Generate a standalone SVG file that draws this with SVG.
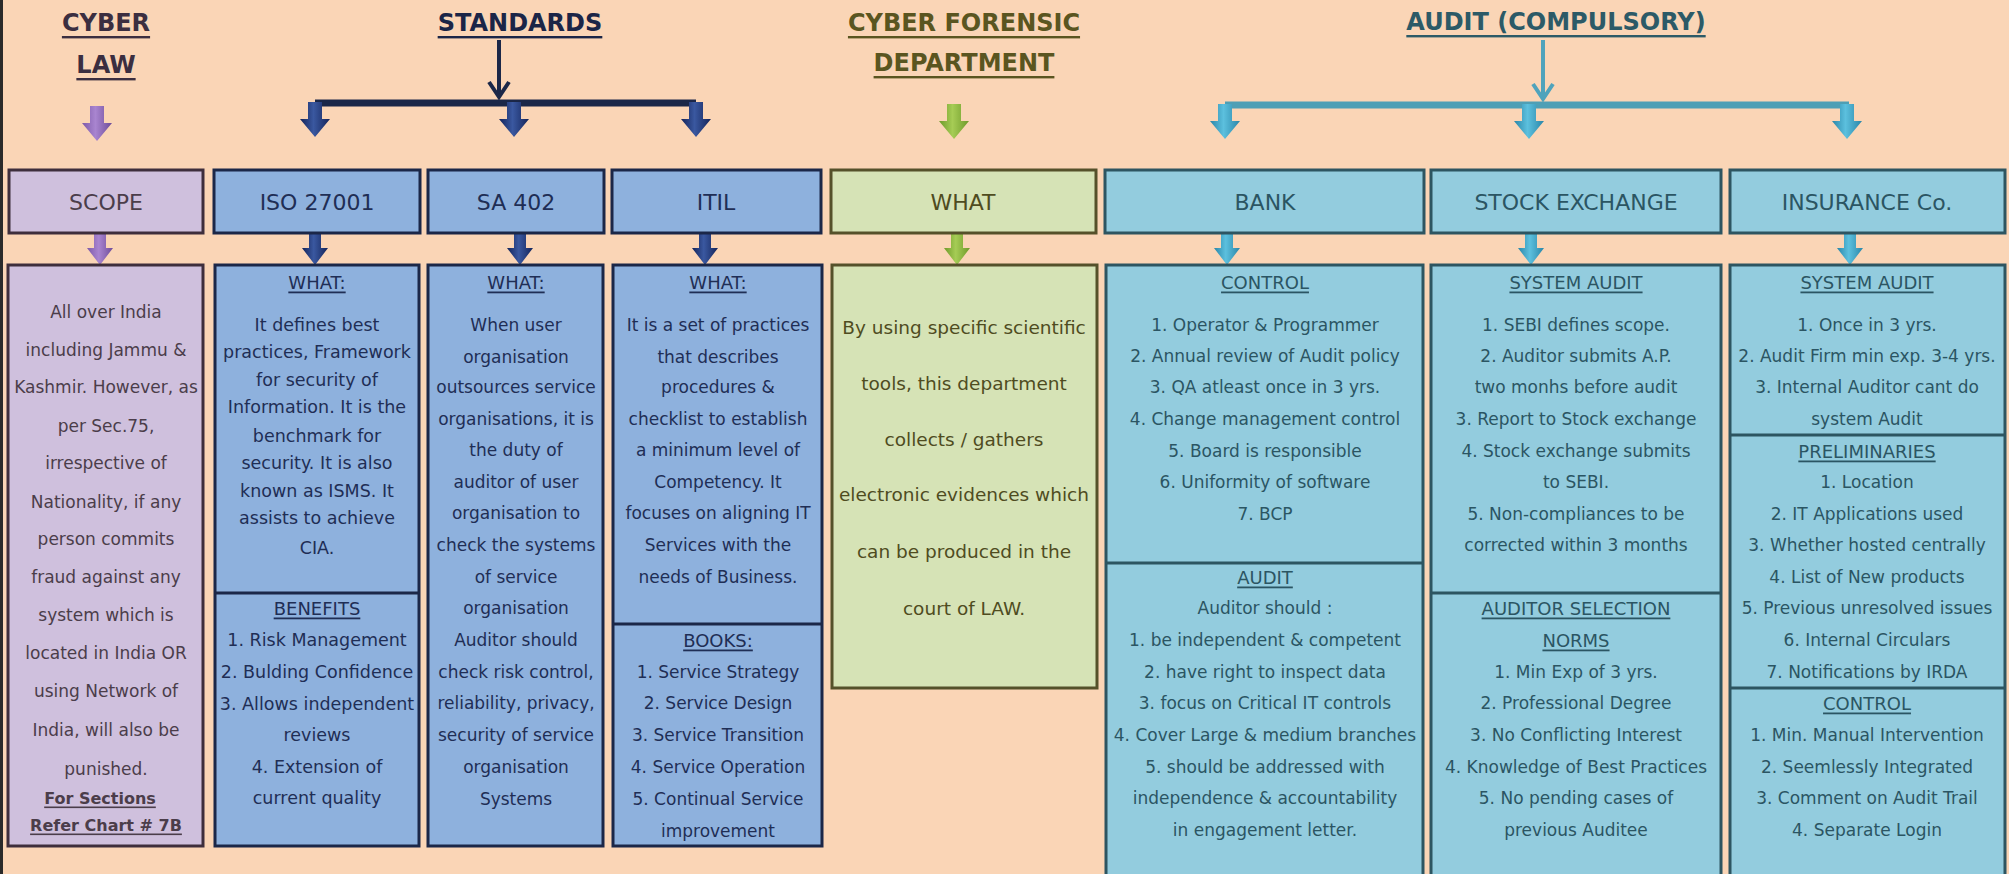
<svg xmlns="http://www.w3.org/2000/svg" xmlns:xlink="http://www.w3.org/1999/xlink" width="2009" height="874" viewBox="0 0 2009 874">
<style>
text{font-family:"DejaVu Sans","Liberation Sans",sans-serif;text-anchor:middle;dominant-baseline:central}
.h{font-size:24px;font-weight:bold;text-decoration:underline}
.hd{font-size:22px}
.b{font-size:17px}
.b175{font-size:17.5px}
.g{font-size:18.5px}
.u{text-decoration:underline;font-size:18px}
.bu{font-size:16px;font-weight:bold;text-decoration:underline}
.pbox{fill:#CFC0DD;stroke:#3E2E3C;stroke-width:3}
.nbox{fill:#8EB1DD;stroke:#1B2748;stroke-width:3}
.gbox{fill:#D6E3B6;stroke:#55512A;stroke-width:3}
.cbox{fill:#93CCDE;stroke:#2D5561;stroke-width:3}
.pt{fill:#4B3D4A}.nt{fill:#1F2E55}.gt{fill:#4F4C1F}.ct{fill:#2B5563}
.pdiv{stroke:#3E2E3C;stroke-width:3}.ndiv{stroke:#1B2748;stroke-width:3}.cdiv{stroke:#2D5561;stroke-width:3}
</style>
<defs>
<linearGradient id="gP" x1="0" x2="1" y1="0" y2="0"><stop offset="0" stop-color="#7E5AA8"/><stop offset="0.45" stop-color="#A985D0"/><stop offset="1" stop-color="#6E4C98"/></linearGradient>
<linearGradient id="gN" x1="0" x2="1" y1="0" y2="0"><stop offset="0" stop-color="#14245A"/><stop offset="0.45" stop-color="#3A58A0"/><stop offset="1" stop-color="#14245A"/></linearGradient>
<linearGradient id="gG" x1="0" x2="1" y1="0" y2="0"><stop offset="0" stop-color="#6E9A2A"/><stop offset="0.45" stop-color="#A6CC55"/><stop offset="1" stop-color="#6E9A2A"/></linearGradient>
<linearGradient id="gC" x1="0" x2="1" y1="0" y2="0"><stop offset="0" stop-color="#2A86A8"/><stop offset="0.45" stop-color="#5CC0DE"/><stop offset="1" stop-color="#2A86A8"/></linearGradient>
<path id="bigA" d="M-7,0 H7 V17 H15 L0,35 L-15,17 H-7 Z"/>
<path id="smA" d="M-6,0 H6 V15 H13 L0,32 L-13,15 H-6 Z"/>
</defs>
<rect x="0" y="0" width="2009" height="874" fill="#FAD5B6"/>
<rect x="0" y="0" width="3" height="874" fill="#2A2A2A"/>

<g id="headings">
<text class="h" x="106" y="23" fill="#3B2E40">CYBER</text>
<text class="h" x="106" y="65" fill="#3B2E40">LAW</text>
<text class="h" x="520" y="23" fill="#1B2547">STANDARDS</text>
<text class="h" x="964" y="23" fill="#5A5520">CYBER FORENSIC</text>
<text class="h" x="964" y="63" fill="#5A5520">DEPARTMENT</text>
<text class="h" x="1556" y="22" fill="#2C5A67">AUDIT (COMPULSORY)</text>
</g>

<g id="connectors">
<use href="#bigA" x="97" y="106" fill="url(#gP)"/>
<line x1="499" y1="40" x2="499" y2="96" stroke="#1B2748" stroke-width="4"/>
<polyline points="489,82 499,97 509,82" fill="none" stroke="#1B2748" stroke-width="4" stroke-linejoin="miter"/>
<line x1="315" y1="103" x2="696" y2="103" stroke="#1B2748" stroke-width="7"/>
<use href="#bigA" x="315" y="102" fill="url(#gN)"/>
<use href="#bigA" x="514" y="102" fill="url(#gN)"/>
<use href="#bigA" x="696" y="102" fill="url(#gN)"/>
<use href="#bigA" x="954" y="104" fill="url(#gG)"/>
<line x1="1543" y1="40" x2="1543" y2="98" stroke="#4FA3BC" stroke-width="4"/>
<polyline points="1533,84 1543,99 1553,84" fill="none" stroke="#4FA3BC" stroke-width="4"/>
<line x1="1225" y1="105" x2="1849" y2="105" stroke="#4E9FB5" stroke-width="7"/>
<use href="#bigA" x="1225" y="104" fill="url(#gC)"/>
<use href="#bigA" x="1529" y="104" fill="url(#gC)"/>
<use href="#bigA" x="1847" y="104" fill="url(#gC)"/>
<use href="#smA" x="100" y="233" fill="url(#gP)"/>
<use href="#smA" x="315" y="233" fill="url(#gN)"/>
<use href="#smA" x="520" y="233" fill="url(#gN)"/>
<use href="#smA" x="705" y="233" fill="url(#gN)"/>
<use href="#smA" x="957" y="233" fill="url(#gG)"/>
<use href="#smA" x="1227" y="233" fill="url(#gC)"/>
<use href="#smA" x="1531" y="233" fill="url(#gC)"/>
<use href="#smA" x="1850" y="233" fill="url(#gC)"/>
</g>

<g id="scope">
<rect class="pbox" x="9" y="170" width="194" height="63"/>
<text class="hd pt" x="106" y="202">SCOPE</text>
</g>
<g id="iso">
<rect class="nbox" x="214" y="170" width="206" height="63"/>
<text class="hd nt" x="317" y="202">ISO 27001</text>
</g>
<g id="sa402">
<rect class="nbox" x="428" y="170" width="176" height="63"/>
<text class="hd nt" x="516" y="202">SA 402</text>
</g>
<g id="itil">
<rect class="nbox" x="612" y="170" width="209" height="63"/>
<text class="hd nt" x="716" y="202">ITIL</text>
</g>
<g id="what">
<rect class="gbox" x="831" y="170" width="265" height="63"/>
<text class="hd gt" x="963" y="202">WHAT</text>
</g>
<g id="bank">
<rect class="cbox" x="1105" y="170" width="319" height="63"/>
<text class="hd ct" x="1265" y="202">BANK</text>
</g>
<g id="stock">
<rect class="cbox" x="1431" y="170" width="290" height="63"/>
<text class="hd ct" x="1576" y="202">STOCK EXCHANGE</text>
</g>
<g id="insurance">
<rect class="cbox" x="1730" y="170" width="275" height="63"/>
<text class="hd ct" x="1867" y="202">INSURANCE Co.</text>
</g>

<g id="scope-detail">
<rect class="pbox" x="8" y="265" width="195" height="581"/>
<g class="b pt">
<text x="106" y="312">All over India</text>
<text x="106" y="350">including Jammu &amp;</text>
<text x="106" y="387">Kashmir. However, as</text>
<text x="106" y="426">per Sec.75,</text>
<text x="106" y="463">irrespective of</text>
<text x="106" y="502">Nationality, if any</text>
<text x="106" y="539">person commits</text>
<text x="106" y="577">fraud against any</text>
<text x="106" y="615">system which is</text>
<text x="106" y="653">located in India OR</text>
<text x="106" y="691">using Network of</text>
<text x="106" y="730">India, will also be</text>
<text x="106" y="769">punished.</text>
</g>
<text class="bu pt" x="100" y="798">For Sections</text>
<text class="bu pt" x="106" y="825">Refer Chart # 7B</text>
</g>

<g id="iso-detail">
<rect class="nbox" x="215" y="265" width="204" height="581"/>
<line class="ndiv" x1="215" y1="593" x2="419" y2="593"/>
<text class="u nt" x="317" y="282">WHAT:</text>
<g class="b175 nt">
<text x="317" y="325">It defines best</text>
<text x="317" y="352">practices, Framework</text>
<text x="317" y="380">for security of</text>
<text x="317" y="407">Information. It is the</text>
<text x="317" y="436">benchmark for</text>
<text x="317" y="463">security. It is also</text>
<text x="317" y="491">known as ISMS. It</text>
<text x="317" y="518">assists to achieve</text>
<text x="317" y="548">CIA.</text>
</g>
<text class="u nt" x="317" y="608">BENEFITS</text>
<g class="b175 nt">
<text x="317" y="640">1. Risk Management</text>
<text x="317" y="672">2. Bulding Confidence</text>
<text x="317" y="704">3. Allows independent</text>
<text x="317" y="735">reviews</text>
<text x="317" y="767">4. Extension of</text>
<text x="317" y="798">current quality</text>
</g>
</g>

<g id="sa402-detail">
<rect class="nbox" x="428" y="265" width="175" height="581"/>
<text class="u nt" x="516" y="282">WHAT:</text>
<g class="b nt">
<text x="516" y="325">When user</text>
<text x="516" y="357">organisation</text>
<text x="516" y="387">outsources service</text>
<text x="516" y="419">organisations, it is</text>
<text x="516" y="450">the duty of</text>
<text x="516" y="482">auditor of user</text>
<text x="516" y="513">organisation to</text>
<text x="516" y="545">check the systems</text>
<text x="516" y="577">of service</text>
<text x="516" y="608">organisation</text>
<text x="516" y="640">Auditor should</text>
<text x="516" y="672">check risk control,</text>
<text x="516" y="703">reliability, privacy,</text>
<text x="516" y="735">security of service</text>
<text x="516" y="767">organisation</text>
<text x="516" y="799">Systems</text>
</g>
</g>

<g id="itil-detail">
<rect class="nbox" x="613" y="265" width="209" height="581"/>
<line class="ndiv" x1="613" y1="624" x2="822" y2="624"/>
<text class="u nt" x="718" y="282">WHAT:</text>
<g class="b nt">
<text x="718" y="325">It is a set of practices</text>
<text x="718" y="357">that describes</text>
<text x="718" y="387">procedures &amp;</text>
<text x="718" y="419">checklist to establish</text>
<text x="718" y="450">a minimum level of</text>
<text x="718" y="482">Competency. It</text>
<text x="718" y="513">focuses on aligning IT</text>
<text x="718" y="545">Services with the</text>
<text x="718" y="577">needs of Business.</text>
</g>
<text class="u nt" x="718" y="640">BOOKS:</text>
<g class="b nt">
<text x="718" y="672">1. Service Strategy</text>
<text x="718" y="703">2. Service Design</text>
<text x="718" y="735">3. Service Transition</text>
<text x="718" y="767">4. Service Operation</text>
<text x="718" y="799">5. Continual Service</text>
<text x="718" y="831">improvement</text>
</g>
</g>

<g id="what-detail">
<rect class="gbox" x="832" y="265" width="265" height="423"/>
<g class="g gt">
<text x="964" y="327">By using specific scientific</text>
<text x="964" y="383">tools,  this department</text>
<text x="964" y="439">collects / gathers</text>
<text x="964" y="494">electronic evidences which</text>
<text x="964" y="551">can be produced in the</text>
<text x="964" y="608">court of LAW.</text>
</g>
</g>

<g id="bank-detail">
<rect class="cbox" x="1106" y="265" width="317" height="620"/>
<line class="cdiv" x1="1106" y1="563" x2="1423" y2="563"/>
<text class="u ct" x="1265" y="282">CONTROL</text>
<g class="b ct">
<text x="1265" y="325">1. Operator &amp; Programmer</text>
<text x="1265" y="356">2. Annual review of Audit policy</text>
<text x="1265" y="387">3. QA atleast once in 3 yrs.</text>
<text x="1265" y="419">4. Change management control</text>
<text x="1265" y="451">5. Board is responsible</text>
<text x="1265" y="482">6. Uniformity of software</text>
<text x="1265" y="514">7. BCP</text>
</g>
<text class="u ct" x="1265" y="577">AUDIT</text>
<g class="b ct">
<text x="1265" y="608">Auditor should :</text>
<text x="1265" y="640">1. be independent &amp; competent</text>
<text x="1265" y="672">2. have right to inspect data</text>
<text x="1265" y="703">3. focus on Critical IT controls</text>
<text x="1265" y="735">4. Cover Large &amp; medium branches</text>
<text x="1265" y="767">5. should be addressed with</text>
<text x="1265" y="798">independence &amp; accountability</text>
<text x="1265" y="830">in engagement letter.</text>
</g>
</g>

<g id="stock-detail">
<rect class="cbox" x="1431" y="265" width="290" height="620"/>
<line class="cdiv" x1="1431" y1="593" x2="1721" y2="593"/>
<text class="u ct" x="1576" y="282">SYSTEM AUDIT</text>
<g class="b ct">
<text x="1576" y="325">1. SEBI defines scope.</text>
<text x="1576" y="356">2. Auditor submits A.P.</text>
<text x="1576" y="387">two monhs before audit</text>
<text x="1576" y="419">3. Report to Stock exchange</text>
<text x="1576" y="451">4. Stock exchange submits</text>
<text x="1576" y="482">to SEBI.</text>
<text x="1576" y="514">5. Non-compliances to be</text>
<text x="1576" y="545">corrected within 3 months</text>
</g>
<text class="u ct" x="1576" y="608">AUDITOR SELECTION</text>
<text class="u ct" x="1576" y="640">NORMS</text>
<g class="b ct">
<text x="1576" y="672">1. Min Exp of 3 yrs.</text>
<text x="1576" y="703">2. Professional Degree</text>
<text x="1576" y="735">3. No Conflicting Interest</text>
<text x="1576" y="767">4. Knowledge of Best Practices</text>
<text x="1576" y="798">5. No pending cases of</text>
<text x="1576" y="830">previous Auditee</text>
</g>
</g>

<g id="insurance-detail">
<rect class="cbox" x="1730" y="265" width="275" height="620"/>
<line class="cdiv" x1="1730" y1="435" x2="2005" y2="435"/>
<line class="cdiv" x1="1730" y1="688" x2="2005" y2="688"/>
<text class="u ct" x="1867" y="282">SYSTEM AUDIT</text>
<g class="b ct">
<text x="1867" y="325">1. Once in 3 yrs.</text>
<text x="1867" y="356">2. Audit Firm min exp. 3-4 yrs.</text>
<text x="1867" y="387">3. Internal Auditor cant do</text>
<text x="1867" y="419">system Audit</text>
</g>
<text class="u ct" x="1867" y="451">PRELIMINARIES</text>
<g class="b ct">
<text x="1867" y="482">1. Location</text>
<text x="1867" y="514">2. IT Applications used</text>
<text x="1867" y="545">3. Whether hosted centrally</text>
<text x="1867" y="577">4. List of New products</text>
<text x="1867" y="608">5. Previous unresolved issues</text>
<text x="1867" y="640">6. Internal Circulars</text>
<text x="1867" y="672">7. Notifications by IRDA</text>
</g>
<text class="u ct" x="1867" y="703">CONTROL</text>
<g class="b ct">
<text x="1867" y="735">1. Min. Manual Intervention</text>
<text x="1867" y="767">2. Seemlessly Integrated</text>
<text x="1867" y="798">3. Comment on Audit Trail</text>
<text x="1867" y="830">4. Separate Login</text>
</g>
</g>
</svg>
